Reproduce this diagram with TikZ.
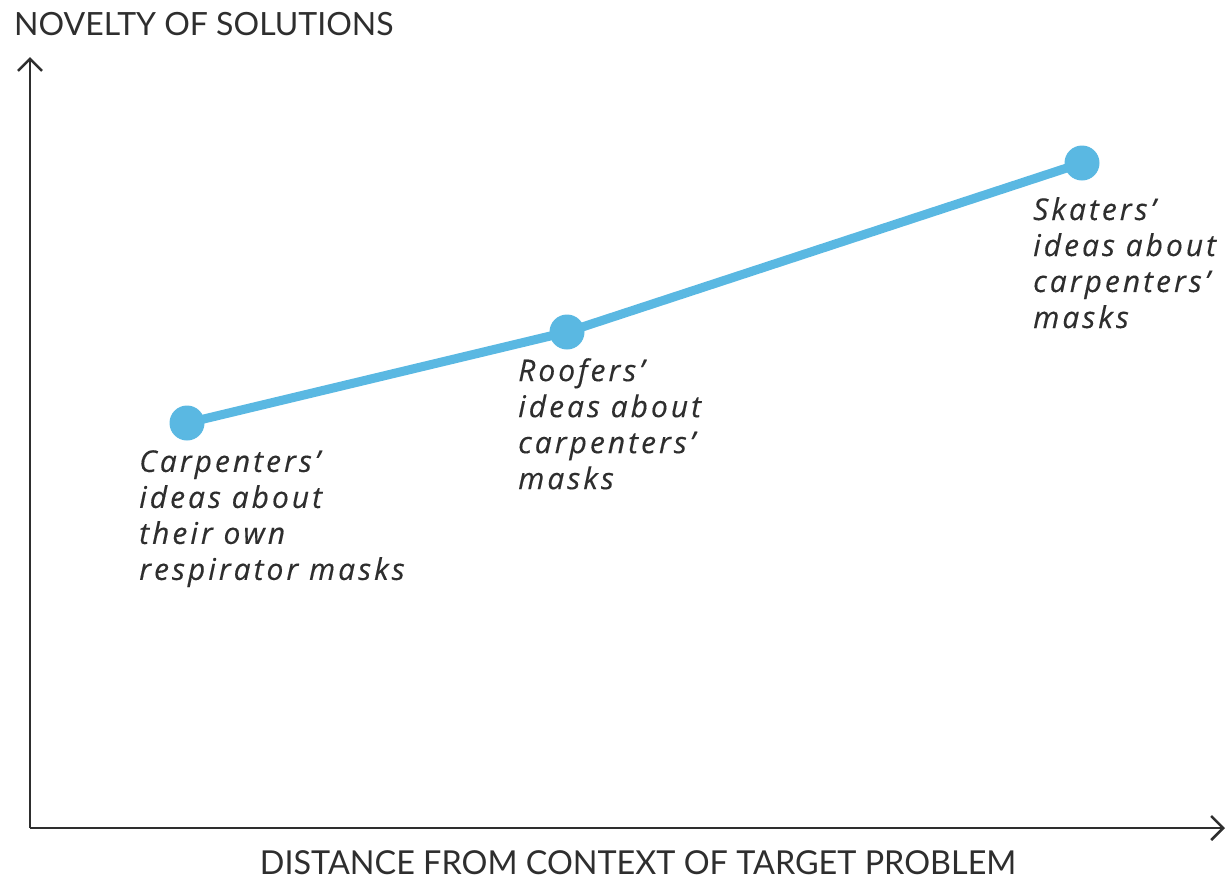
\documentclass[tikz,border=0pt]{standalone}
\usepackage{fontspec}
\setmainfont{Lato}
\newfontfamily\labelfont[LetterSpace=10,FakeBold=0.3]{Open Sans}
\newfontfamily\axisfontb[FakeStretch=0.98]{Lato}
\usetikzlibrary{arrows.meta}
\definecolor{lineblue}{HTML}{5AB8E2}
\definecolor{inkgray}{HTML}{2E2E2E}
\begin{document}
\begin{tikzpicture}[x=1pt,y=-1pt,
  axis/.style={line width=2.6pt, draw=inkgray, -{Straight Barb[length=12pt,width=24pt,line width=2.6pt]}},
  dot/.style={circle, fill=lineblue, inner sep=0pt, minimum size=35pt},
  link/.style={line width=9pt, draw=lineblue, shorten <=-3pt, shorten >=-3pt},
  idea/.style={anchor=north west, inner sep=0pt, align=left, text=inkgray,
    font=\labelfont\itshape\fontsize{30}{36}\selectfont},
  axislabel/.style={inner sep=0pt, text=inkgray}
]
\useasboundingbox (0,0) rectangle (1227,879);
\coordinate (origin) at (30,828);
\coordinate (ytip) at (30,57);
\coordinate (xtip) at (1225,828);
\draw[axis] (origin) -- (ytip);
\draw[axis] (origin) -- (xtip);
\node[axislabel, anchor=base west, font=\fontsize{32}{36}\selectfont] (ylab) at (14,35) {NOVELTY OF SOLUTIONS};
\node[axislabel, anchor=base, font=\axisfontb\fontsize{33}{36}\selectfont] (xlab) at (638,874) {DISTANCE FROM CONTEXT OF TARGET PROBLEM};
\node[dot] (c1) at (187,423) {};
\node[dot] (c2) at (567,332) {};
\node[dot] (c3) at (1082,163) {};
\draw[link] (c1) -- (c2);
\draw[link] (c2) -- (c3);
\node[idea] (t1) at (139,450) {Carpenters’\\ideas about\\their own\\respirator masks};
\node[idea] (t2) at (518,358) {Roofers’\\ideas about\\carpenters’\\masks};
\node[idea] (t3) at (1033,197) {Skaters’\\ideas about\\carpenters’\\masks};
\end{tikzpicture}
\end{document}
